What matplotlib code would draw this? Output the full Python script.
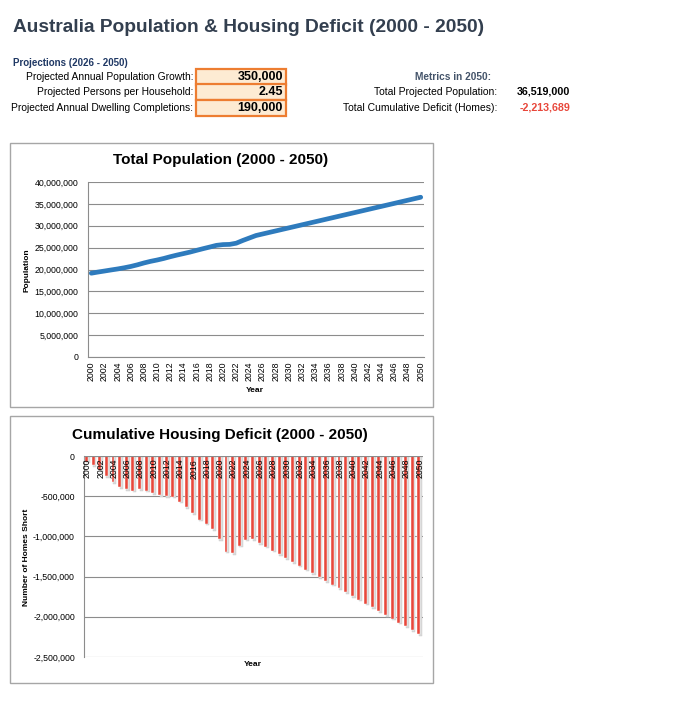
import matplotlib
matplotlib.use('Agg')
import matplotlib.pyplot as plt
import matplotlib.patches as patches
from matplotlib.ticker import FuncFormatter
import numpy as np

W, H = 695, 717

years = list(range(2000, 2051))

population = [
    19153000, 19413000, 19651000, 19895000, 20127000, 20395000, 20698000, 21072000,
    21499000, 21866000, 22172000, 22522000, 22928000, 23298000, 23640000, 23985000,
    24385000, 24771000, 25140000, 25522000, 25694000, 25739000, 26014000, 26639000,
    27204000, 27769000, 28119000, 28469000, 28819000, 29169000, 29519000, 29869000,
    30219000, 30569000, 30919000, 31269000, 31619000, 31969000, 32319000, 32669000,
    33019000, 33369000, 33719000, 34069000, 34419000, 34769000, 35119000, 35469000,
    35819000, 36169000, 36519000,
]

deficit = [
    -71000, -112000, -174000, -249000, -328000, -390000, -415000, -432000,
    -415000, -432000, -465000, -485000, -497000, -505000, -567000, -637000,
    -711000, -794000, -844000, -910000, -1034000, -1188000, -1208000, -1117000,
    -1042000, -1035114, -1082257, -1129400, -1176543, -1223686, -1270829, -1317972,
    -1365115, -1412258, -1459401, -1506544, -1553687, -1600830, -1647973, -1695116,
    -1742259, -1789402, -1836545, -1883688, -1930831, -1977974, -2025117, -2072260,
    -2119403, -2166546, -2213689,
]

input_labels = ['Projected Annual Population Growth:', 'Projected Persons per Household:',
                'Projected Annual Dwelling Completions:']
input_values = ['350,000', '2.45', '190,000']
metric_labels = ['Total Projected Population:', 'Total Cumulative Deficit (Homes):']
metric_values = ['36,519,000', '-2,213,689']

plt.rcParams['font.family'] = ['Liberation Sans', 'DejaVu Sans']


def fx(x):
    return x / W


def fy(y):
    return 1 - y / H


def frame(x0, y0, x1, y1, ec, lw=1.0, fc='none'):
    fig.add_artist(patches.Rectangle((fx(x0), fy(y1)), (x1 - x0) / W, (y1 - y0) / H,
                                     transform=fig.transFigure, facecolor=fc,
                                     edgecolor=ec, lw=lw))


fig = plt.figure(figsize=(W / 100, H / 100), dpi=100)

# header
fig.text(fx(13), fy(28), 'Australia Population & Housing Deficit (2000 - 2050)',
         fontsize=13.8, weight='bold', color='#333f4f', va='center')
fig.text(fx(13), fy(63), 'Projections (2026 - 2050)', fontsize=7, weight='bold',
         color='#1f3864', va='center')

row_y = [77, 92, 108]
for i, (lab, val) in enumerate(zip(input_labels, input_values)):
    frame(196, row_y[i] - 8, 286, row_y[i] + 8, '#ed7d31', lw=1.6, fc='#fdebd3')
    fig.text(fx(193), fy(row_y[i]), lab, fontsize=7.4, ha='right', va='center')
    fig.text(fx(283), fy(row_y[i]), val, fontsize=9, weight='bold', ha='right', va='center')

fig.text(fx(453), fy(77), 'Metrics in 2050:', fontsize=7.3, weight='bold',
         color='#44546a', ha='center', va='center')
metric_colors = ['black', '#e8473b']
for i, (lab, val) in enumerate(zip(metric_labels, metric_values)):
    fig.text(fx(497), fy(row_y[i + 1]), lab, fontsize=7.5, ha='right', va='center')
    fig.text(fx(570), fy(row_y[i + 1]), val, fontsize=7.7, weight='bold', ha='right',
             va='center', color=metric_colors[i])

grid_col = '#8c8c8c'
comma = FuncFormatter(lambda v, p: f'{v:,.0f}')
idx = np.arange(len(years))

# chart 1: population line
frame(10, 143, 433, 407, '#a6a6a6')
ax1 = fig.add_axes([fx(88), fy(357), (424 - 88) / W, (357 - 182) / H])
ax1.plot(idx, population, color='#2e7bbd', lw=3.4, solid_capstyle='round', zorder=3)
ax1.set_xlim(-0.5, len(years) - 0.5)
ax1.set_ylim(0, 40000000)
ax1.set_yticks(np.arange(0, 40000001, 5000000))
ax1.yaxis.set_major_formatter(comma)
ax1.set_xticks(idx[::2])
ax1.set_xticklabels([str(y) for y in years[::2]], rotation=90)
ax1.tick_params(axis='both', length=0, labelsize=6.3, pad=3)
ax1.tick_params(axis='y', pad=7)
ax1.grid(axis='y', color=grid_col, lw=0.8, zorder=0)
for s in ['top', 'right']:
    ax1.spines[s].set_visible(False)
for s in ['left', 'bottom']:
    ax1.spines[s].set_color(grid_col)
    ax1.spines[s].set_linewidth(0.8)
fig.text(fx(221), fy(160), 'Total Population (2000 - 2050)', fontsize=11, weight='bold',
         ha='center', va='center')
fig.text(fx(27), fy(270), 'Population', fontsize=6, weight='bold', rotation=90,
         ha='center', va='center')
fig.text(fx(255), fy(391), 'Year', fontsize=6, weight='bold', ha='center', va='center')

# chart 2: cumulative deficit bars with soft shadow
frame(10, 416, 433, 683, '#a6a6a6')
ax2 = fig.add_axes([fx(84), fy(657), (423 - 84) / W, (657 - 456) / H])
shadow = [d - 20000 for d in deficit]
ax2.bar(idx + 0.12, shadow, width=0.5, color='#dadada', edgecolor='#c8c8c8', lw=0.3,
        zorder=2)
ax2.bar(idx - 0.14, deficit, width=0.44, color='#e8473b', edgecolor='white', lw=0.3,
        zorder=3)
ax2.set_xlim(-0.5, len(years) - 0.5)
ax2.set_ylim(-2500000, 0)
ax2.set_yticks(np.arange(-2500000, 1, 500000))
ax2.yaxis.set_major_formatter(comma)
ax2.set_xticks([])
ax2.tick_params(axis='y', length=0, labelsize=6.3, pad=6.5)
ax2.grid(axis='y', color=grid_col, lw=0.8, zorder=0)
ax2.axhline(0, color=grid_col, lw=0.8, zorder=4)
for s in ['top', 'right', 'bottom']:
    ax2.spines[s].set_visible(False)
ax2.spines['left'].set_color(grid_col)
ax2.spines['left'].set_linewidth(0.8)
for i in idx[::2]:
    ax2.annotate(str(years[i]), (i, 0), xytext=(0, -2), textcoords='offset points',
                 rotation=90, ha='center', va='top', fontsize=6.3, zorder=5)
fig.text(fx(220), fy(435), 'Cumulative Housing Deficit (2000 - 2050)', fontsize=11,
         weight='bold', ha='center', va='center')
fig.text(fx(27), fy(557), 'Number of Homes Short', fontsize=6, weight='bold', rotation=90,
         ha='center', va='center')
fig.text(fx(253), fy(665), 'Year', fontsize=6, weight='bold', ha='center', va='center')

fig.savefig('out.png', dpi=100)
